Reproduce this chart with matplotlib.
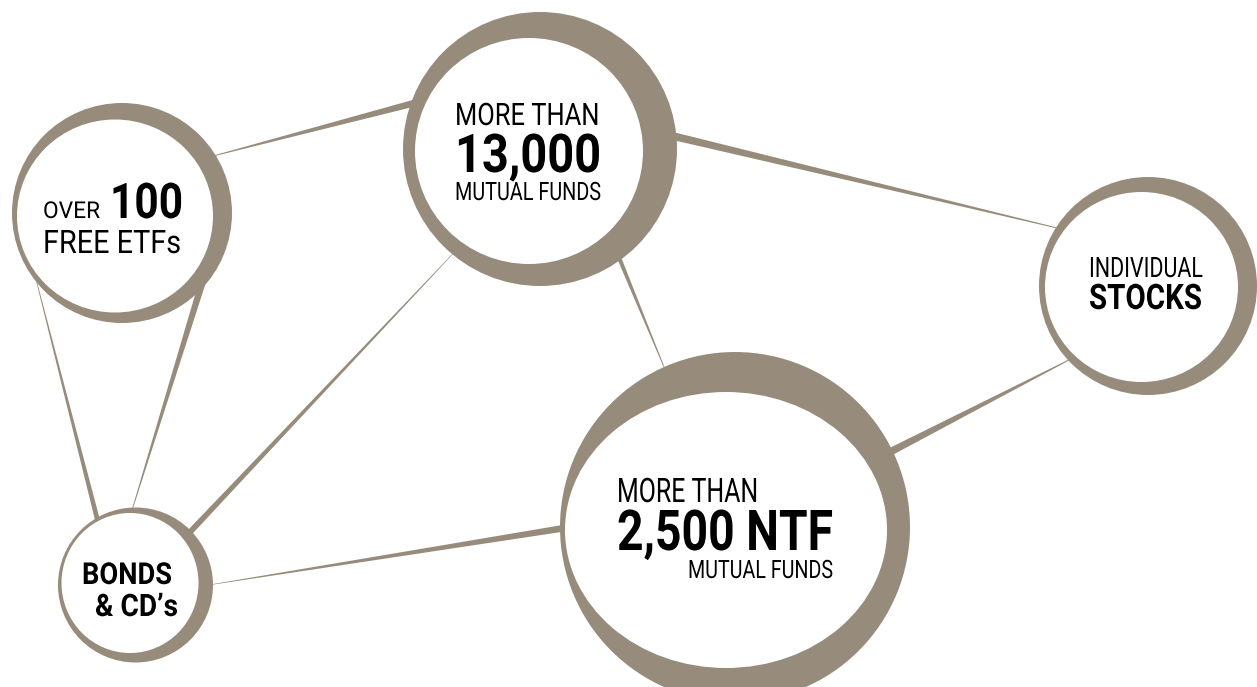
import numpy as np
import matplotlib
matplotlib.use("Agg")
import matplotlib.pyplot as plt
from matplotlib.patches import Circle, Ellipse, Polygon
from matplotlib.patheffects import AbstractPathEffect
from matplotlib.transforms import Affine2D
from matplotlib import font_manager as fm

# ---------------- data ----------------
node_names = ["ETFs", "MutualFunds", "Stocks", "NTF", "Bonds"]
node_lines = [
    [("OVER", "light"), ("100", "bold"), ("FREE ETFs", "light")],
    [("MORE THAN", "light"), ("13,000", "bold"), ("MUTUAL FUNDS", "light")],
    [("INDIVIDUAL", "light"), ("STOCKS", "bold")],
    [("MORE THAN", "light"), ("2,500 NTF", "bold"), ("MUTUAL FUNDS", "light")],
    [("BONDS", "bold"), ("& CD\u2019s", "bold")],
]
edges = [("ETFs", "MutualFunds"), ("ETFs", "Bonds"), ("ETFs", "Bonds"),
         ("MutualFunds", "Bonds"), ("MutualFunds", "NTF"),
         ("MutualFunds", "Stocks"), ("Stocks", "NTF"), ("NTF", "Bonds")]

# ---------------- layout / style ----------------
W, H = 1257, 687
GRAY = "#978c7c"

outer = {"ETFs": ((122, 213), 110), "MutualFunds": ((540, 149), 137),
         "Stocks": ((1148, 286), 109), "NTF": ((735, 527), 175),
         "Bonds": ((135.5, 585), 77.5)}
# inner white (center, width, height)
inner = {"ETFs": ((115, 216), 196, 193), "MutualFunds": ((529, 151), 228, 226),
         "Stocks": ((1141.5, 287), 193, 190), "NTF": ((726, 530), 322, 276),
         "Bonds": ((130, 583), 137, 140)}

# visible endpoints (start, end) and widths (start, end) of the tapered links
edge_geom = [
    ((217, 155), (407, 105), 0.6, 7),
    ((38, 287), (97, 518), 0.6, 5),
    ((200, 290), (133, 507), 7, 0.5),
    ((447, 260), (192, 530), 0.5, 6),
    ((620, 260), (664, 367), 4.5, 0.5),
    ((677, 137), (1053, 227), 8, 0.8),
    ((1065, 362), (890, 452), 0.8, 8),
    ((215, 584), (565, 528), 0.4, 7),
]

# text boxes: (x_left, x_right, baseline y, cap height px)
text_layout = [
    [(43, 100, 218, 16.5), (110, 183, 218, 35), (43, 181, 253, 23)],
    [(455, 599, 125, 22), (455, 601, 172, 38), (455, 601, 200, 18)],
    [(1089, 1203, 277, 20), (1089, 1202, 309, 25)],
    [(617, 758, 502, 24), (617, 833, 550, 40), (688, 833, 578, 18)],
    [(82, 172, 584, 21.5), (95, 178, 616, 22)],
]

avail = {f.name for f in fm.fontManager.ttflist}
family = "DejaVu Sans"
CAP = 0.73
for cand, cap in [("Roboto", 0.711), ("Liberation Sans", 0.716), ("DejaVu Sans", 0.73)]:
    if cand in avail:
        family, CAP = cand, cap
        break


class HScale(AbstractPathEffect):
    """Horizontally condense glyphs about the text origin."""

    def __init__(self, sx=1.0):
        super().__init__()
        self.sx = sx

    def draw_path(self, renderer, gc, tpath, affine, rgbFace=None):
        x0 = affine.get_matrix()[0, 2]
        aff = affine + Affine2D().translate(-x0, 0).scale(self.sx, 1).translate(x0, 0)
        renderer.draw_path(gc, tpath, aff, rgbFace)


fig = plt.figure(figsize=(W / 100, H / 100), dpi=100)
ax = fig.add_axes([0, 0, 1, 1])
ax.set_xlim(0, W)
ax.set_ylim(H, 0)
ax.set_aspect("equal")
ax.axis("off")


def taper(p0, p1, w0, w1, ext0=0, ext1=0):
    p0 = np.array(p0, float)
    p1 = np.array(p1, float)
    d = p1 - p0
    d /= np.hypot(*d)
    n = np.array([-d[1], d[0]])
    a = p0 - d * ext0
    b = p1 + d * ext1
    pts = [a + n * w0 / 2, b + n * w1 / 2, b - n * w1 / 2, a - n * w0 / 2]
    return Polygon(pts, closed=True, facecolor=GRAY, edgecolor="none", zorder=1)


for (p0, p1, w0, w1) in edge_geom:
    ax.add_patch(taper(p0, p1, w0, w1, ext0=12, ext1=12))

for name in node_names:
    (c, r) = outer[name]
    ax.add_patch(Circle(c, r, facecolor=GRAY, edgecolor="none", zorder=2))
    (c, w, h) = inner[name]
    ax.add_patch(Ellipse(c, w, h, facecolor="white", edgecolor="none", zorder=3))

texts = []
for lines, lay in zip(node_lines, text_layout):
    for (txt, wt), (x0, x1, y, cap) in zip(lines, lay):
        fs = cap / CAP * 0.72
        t = ax.text(x0, y, txt, fontsize=fs, family=family,
                    fontweight="bold" if wt == "bold" else "normal",
                    ha="left", va="baseline", color="black", zorder=4)
        texts.append((t, x1 - x0))

renderer = fig.canvas.get_renderer()
for t, target in texts:
    w = t.get_window_extent(renderer).width
    t.set_path_effects([HScale(target / w)])

fig.savefig("out.png", dpi=100, facecolor="white")
